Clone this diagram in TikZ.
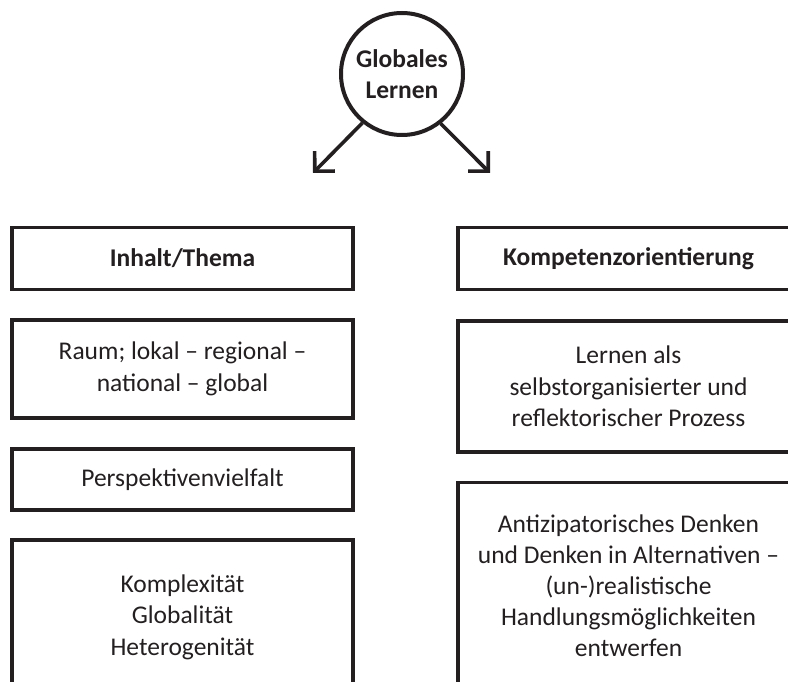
\documentclass[tikz,border=0pt]{standalone}
\usepackage{fontspec}
\setmainfont{Carlito}
\usetikzlibrary{arrows.meta}
\definecolor{ink}{HTML}{231F20}
\begin{document}
\begin{tikzpicture}[x=1pt,y=-1pt,
  txt/.style={font=\fontsize{25.5}{31.5}\selectfont, text=ink, align=center},
  box/.style={txt, draw=ink, line width=3.6pt, minimum width=341pt, inner sep=0pt},
  hd/.style={box, font=\bfseries\fontsize{25.5}{31.5}\selectfont},
  arr/.style={draw=ink, line width=3.6pt, -{Straight Barb[angle=90:20pt, line join=miter, line cap=butt]}}
]
\useasboundingbox (0,0) rectangle (788,682);
\clip (0,0) rectangle (788,682);
% central circle
\node[circle, draw=ink, line width=4pt, minimum size=122pt, inner sep=0pt, txt,
      font=\bfseries\fontsize{25.5}{31}\selectfont] (gl) at (402,74) {Globales\\Lernen};
\coordinate (tl) at (313,173);
\coordinate (tr) at (490,173);
\draw[arr] (gl.231.5) -- (tl);
\draw[arr] (gl.308.5) -- (tr);
% left column
\node[hd, minimum height=62pt] (l1) at (182.5,258.5) {Inhalt/Thema};
\node[box, minimum height=98pt] (l2) at (182.5,369) {Raum; lokal -- regional --\\national -- global};
\node[box, minimum height=61pt] (l3) at (182.5,479.5) {Perspektivenvielfalt};
\node[box, minimum height=154pt] (l4) at (182.5,617) {Komplexität\\Globalität\\Heterogenität};
% right column
\node[hd, minimum height=62pt] (r1) at (628.5,258.5) {Kompetenzorientierung};
\node[box, minimum height=131pt] (r2) at (628.5,386.5) {Lernen als\\selbstorganisierter und\\reflektorischer Prozess};
\node[box, minimum height=206pt, txt, font=\fontsize{25.5}{31}\selectfont] (r3) at (628.5,585.5) {Antizipatorisches Denken\\und Denken in Alternativen --\\(un-)realistische\\Handlungsmöglichkeiten\\entwerfen};
\end{tikzpicture}
\end{document}
